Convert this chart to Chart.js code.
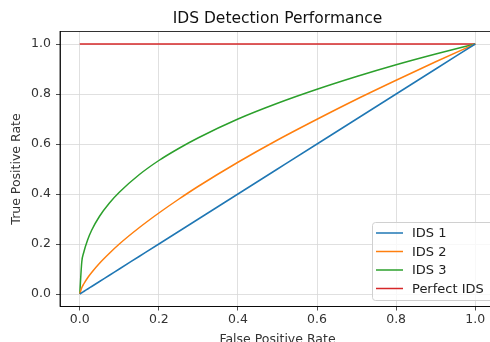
<!DOCTYPE html>
<html>
<head>
<meta charset="utf-8">
<script src="https://cdn.jsdelivr.net/npm/chart.js@4/dist/chart.umd.min.js"></script>
<style>
  html, body { margin: 0; padding: 0; background: #fff; overflow: hidden; }
  #wrap { width: 500px; height: 342px; }
</style>
</head>
<body>
<div id="wrap"><canvas id="roc" width="500" height="342"></canvas></div>
<script>
/* ROC curves for three detectors plus the ideal one */

const fpr = [0, 0.005, 0.01, 0.02, 0.03, 0.05, 0.075, 0.1, 0.15, 0.2, 0.25, 0.3, 0.4, 0.5, 0.6, 0.7, 0.8, 0.9, 1.0];

const ids1 = [0, 0.005, 0.01, 0.02, 0.03, 0.05, 0.075, 0.1, 0.15, 0.2, 0.25, 0.3, 0.4, 0.5, 0.6, 0.7, 0.8, 0.9, 1.0];
const ids2 = [0, 0.025, 0.04, 0.065, 0.086, 0.123, 0.163, 0.2, 0.265, 0.324, 0.379, 0.431, 0.527, 0.616, 0.699, 0.779, 0.855, 0.929, 1.0];
const ids3 = [0, 0.127, 0.166, 0.217, 0.255, 0.311, 0.364, 0.407, 0.477, 0.534, 0.582, 0.625, 0.7, 0.763, 0.819, 0.87, 0.917, 0.96, 1.0];
const perfect = [1, 1, 1, 1, 1, 1, 1, 1, 1, 1, 1, 1, 1, 1, 1, 1, 1, 1, 1];

const seriesNames = ["IDS 1", "IDS 2", "IDS 3", "Perfect IDS"];
const seriesColors = ["#1f77b4", "#ff7f0e", "#2ca02c", "#d62728"];

const xTicks = [0, 0.2, 0.4, 0.6, 0.8, 1.0];
const yTicks = [0, 0.2, 0.4, 0.6, 0.8, 1.0];

const FONT = "'DejaVu Sans', sans-serif";

const toPoints = ys => fpr.map((x, i) => ({ x: x, y: ys[i] }));

const frameAndText = {
  id: "frameAndText",
  afterDraw(chart) {
    const { ctx, chartArea: a } = chart;
    ctx.save();
    // frame (top / right spines)
    ctx.strokeStyle = "#000";
    ctx.lineWidth = 0.8;
    ctx.strokeRect(a.left, a.top, a.right - a.left, a.bottom - a.top);

    // title
    ctx.fillStyle = "#111";
    ctx.font = "15.5px " + FONT;
    ctx.textAlign = "center";
    ctx.textBaseline = "middle";
    ctx.fillText("IDS Detection Performance", (a.left + a.right) / 2, 19);

    // legend, lower right
    const bx = 372, by = 222, bw = 125, bh = 78;
    ctx.fillStyle = "rgba(255,255,255,0.8)";
    ctx.strokeStyle = "#d0d0d0";
    ctx.lineWidth = 1;
    ctx.beginPath();
    ctx.roundRect(bx + 0.5, by + 0.5, bw, bh, 3);
    ctx.fill();
    ctx.stroke();
    ctx.font = "13px " + FONT;
    ctx.textAlign = "left";
    chart.data.datasets.forEach((ds, i) => {
      const yy = 233 + i * 18.5;
      ctx.strokeStyle = ds.borderColor;
      ctx.lineWidth = 1.5;
      ctx.beginPath();
      ctx.moveTo(376, yy);
      ctx.lineTo(403, yy);
      ctx.stroke();
      ctx.fillStyle = "#222";
      ctx.fillText(ds.label, 412, yy + 1);
    });
    ctx.restore();
  }
};

new Chart(document.getElementById("roc"), {
  type: "line",
  data: {
    datasets: [ids1, ids2, ids3, perfect].map((ys, i) => ({
      label: seriesNames[i],
      data: toPoints(ys),
      borderColor: seriesColors[i],
      backgroundColor: seriesColors[i],
      borderWidth: 1.5,
      pointRadius: 0,
      cubicInterpolationMode: "monotone",
      fill: false
    }))
  },
  options: {
    responsive: false,
    animation: false,
    layout: { padding: { top: 31.5, right: 5, left: 0, bottom: -5 } },
    plugins: {
      legend: { display: false },
      title: { display: false },
      tooltip: { enabled: false }
    },
    scales: {
      x: {
        type: "linear",
        min: -0.05,
        max: 1.05,
        afterBuildTicks: s => { s.ticks = xTicks.map(v => ({ value: v })); },
        afterFit: s => { s.height = 40.5; },
        ticks: {
          autoSkip: false,
          maxRotation: 0,
          padding: 2,
          color: "#333",
          font: { family: FONT, size: 12.5 },
          callback: v => v.toFixed(1)
        },
        grid: { color: "#d8d8d8", lineWidth: 0.8, tickLength: 4, tickColor: "#222" },
        border: { color: "#000", width: 0.8 },
        title: {
          display: true,
          text: "False Positive Rate",
          color: "#333",
          font: { family: FONT, size: 12.5 },
          padding: { top: 0, bottom: 0 }
        }
      },
      y: {
        type: "linear",
        min: -0.05,
        max: 1.05,
        afterBuildTicks: s => { s.ticks = yTicks.map(v => ({ value: v })); },
        afterFit: s => { s.width = 60; },
        ticks: {
          autoSkip: false,
          padding: 5,
          color: "#333",
          font: { family: FONT, size: 12.5 },
          callback: v => v.toFixed(1)
        },
        grid: { color: "#d8d8d8", lineWidth: 0.8, tickLength: 4, tickColor: "#222" },
        border: { color: "#000", width: 0.8 },
        title: {
          display: true,
          text: "True Positive Rate",
          color: "#333",
          font: { family: FONT, size: 12.5 },
          padding: { top: 9, bottom: 0 }
        }
      }
    }
  },
  plugins: [frameAndText]
});
</script>
</body>
</html>
